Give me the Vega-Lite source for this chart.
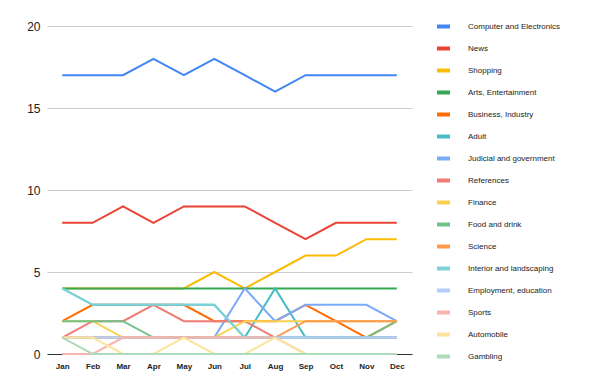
{
  "$schema": "https://vega.github.io/schema/vega-lite/v6.json",
  "width": 365,
  "height": 328,
  "autosize": "none",
  "padding": {"left": 47, "top": 26, "right": 188, "bottom": 34},
  "background": "white",
  "config": {"view": {"stroke": null}, "font": "Liberation Sans"},
  "data": {"values": [
    {"s":"Computer and Electronics","m":"Jan","v":17},{"s":"Computer and Electronics","m":"Feb","v":17},{"s":"Computer and Electronics","m":"Mar","v":17},{"s":"Computer and Electronics","m":"Apr","v":18},{"s":"Computer and Electronics","m":"May","v":17},{"s":"Computer and Electronics","m":"Jun","v":18},{"s":"Computer and Electronics","m":"Jul","v":17},{"s":"Computer and Electronics","m":"Aug","v":16},{"s":"Computer and Electronics","m":"Sep","v":17},{"s":"Computer and Electronics","m":"Oct","v":17},{"s":"Computer and Electronics","m":"Nov","v":17},{"s":"Computer and Electronics","m":"Dec","v":17},
    {"s":"News","m":"Jan","v":8},{"s":"News","m":"Feb","v":8},{"s":"News","m":"Mar","v":9},{"s":"News","m":"Apr","v":8},{"s":"News","m":"May","v":9},{"s":"News","m":"Jun","v":9},{"s":"News","m":"Jul","v":9},{"s":"News","m":"Aug","v":8},{"s":"News","m":"Sep","v":7},{"s":"News","m":"Oct","v":8},{"s":"News","m":"Nov","v":8},{"s":"News","m":"Dec","v":8},
    {"s":"Shopping","m":"Jan","v":4},{"s":"Shopping","m":"Feb","v":4},{"s":"Shopping","m":"Mar","v":4},{"s":"Shopping","m":"Apr","v":4},{"s":"Shopping","m":"May","v":4},{"s":"Shopping","m":"Jun","v":5},{"s":"Shopping","m":"Jul","v":4},{"s":"Shopping","m":"Aug","v":5},{"s":"Shopping","m":"Sep","v":6},{"s":"Shopping","m":"Oct","v":6},{"s":"Shopping","m":"Nov","v":7},{"s":"Shopping","m":"Dec","v":7},
    {"s":"Arts, Entertainment","m":"Jan","v":4},{"s":"Arts, Entertainment","m":"Feb","v":4},{"s":"Arts, Entertainment","m":"Mar","v":4},{"s":"Arts, Entertainment","m":"Apr","v":4},{"s":"Arts, Entertainment","m":"May","v":4},{"s":"Arts, Entertainment","m":"Jun","v":4},{"s":"Arts, Entertainment","m":"Jul","v":4},{"s":"Arts, Entertainment","m":"Aug","v":4},{"s":"Arts, Entertainment","m":"Sep","v":4},{"s":"Arts, Entertainment","m":"Oct","v":4},{"s":"Arts, Entertainment","m":"Nov","v":4},{"s":"Arts, Entertainment","m":"Dec","v":4},
    {"s":"Business, Industry","m":"Jan","v":2},{"s":"Business, Industry","m":"Feb","v":3},{"s":"Business, Industry","m":"Mar","v":3},{"s":"Business, Industry","m":"Apr","v":3},{"s":"Business, Industry","m":"May","v":3},{"s":"Business, Industry","m":"Jun","v":2},{"s":"Business, Industry","m":"Jul","v":2},{"s":"Business, Industry","m":"Aug","v":2},{"s":"Business, Industry","m":"Sep","v":3},{"s":"Business, Industry","m":"Oct","v":2},{"s":"Business, Industry","m":"Nov","v":1},{"s":"Business, Industry","m":"Dec","v":2},
    {"s":"Adult","m":"Jan","v":4},{"s":"Adult","m":"Feb","v":3},{"s":"Adult","m":"Mar","v":3},{"s":"Adult","m":"Apr","v":3},{"s":"Adult","m":"May","v":3},{"s":"Adult","m":"Jun","v":3},{"s":"Adult","m":"Jul","v":1},{"s":"Adult","m":"Aug","v":4},{"s":"Adult","m":"Sep","v":1},{"s":"Adult","m":"Oct","v":1},{"s":"Adult","m":"Nov","v":1},{"s":"Adult","m":"Dec","v":1},
    {"s":"Judicial and government","m":"Jan","v":1},{"s":"Judicial and government","m":"Feb","v":1},{"s":"Judicial and government","m":"Mar","v":1},{"s":"Judicial and government","m":"Apr","v":1},{"s":"Judicial and government","m":"May","v":1},{"s":"Judicial and government","m":"Jun","v":1},{"s":"Judicial and government","m":"Jul","v":4},{"s":"Judicial and government","m":"Aug","v":2},{"s":"Judicial and government","m":"Sep","v":3},{"s":"Judicial and government","m":"Oct","v":3},{"s":"Judicial and government","m":"Nov","v":3},{"s":"Judicial and government","m":"Dec","v":2},
    {"s":"References","m":"Jan","v":1},{"s":"References","m":"Feb","v":2},{"s":"References","m":"Mar","v":2},{"s":"References","m":"Apr","v":3},{"s":"References","m":"May","v":2},{"s":"References","m":"Jun","v":2},{"s":"References","m":"Jul","v":2},{"s":"References","m":"Aug","v":1},{"s":"References","m":"Sep","v":1},{"s":"References","m":"Oct","v":1},{"s":"References","m":"Nov","v":1},{"s":"References","m":"Dec","v":1},
    {"s":"Finance","m":"Jan","v":2},{"s":"Finance","m":"Feb","v":2},{"s":"Finance","m":"Mar","v":1},{"s":"Finance","m":"Apr","v":1},{"s":"Finance","m":"May","v":1},{"s":"Finance","m":"Jun","v":1},{"s":"Finance","m":"Jul","v":2},{"s":"Finance","m":"Aug","v":2},{"s":"Finance","m":"Sep","v":2},{"s":"Finance","m":"Oct","v":2},{"s":"Finance","m":"Nov","v":2},{"s":"Finance","m":"Dec","v":2},
    {"s":"Food and drink","m":"Jan","v":2},{"s":"Food and drink","m":"Feb","v":2},{"s":"Food and drink","m":"Mar","v":2},{"s":"Food and drink","m":"Apr","v":1},{"s":"Food and drink","m":"May","v":1},{"s":"Food and drink","m":"Jun","v":1},{"s":"Food and drink","m":"Jul","v":1},{"s":"Food and drink","m":"Aug","v":1},{"s":"Food and drink","m":"Sep","v":1},{"s":"Food and drink","m":"Oct","v":1},{"s":"Food and drink","m":"Nov","v":1},{"s":"Food and drink","m":"Dec","v":2},
    {"s":"Science","m":"Jan","v":1},{"s":"Science","m":"Feb","v":1},{"s":"Science","m":"Mar","v":1},{"s":"Science","m":"Apr","v":1},{"s":"Science","m":"May","v":1},{"s":"Science","m":"Jun","v":1},{"s":"Science","m":"Jul","v":1},{"s":"Science","m":"Aug","v":1},{"s":"Science","m":"Sep","v":2},{"s":"Science","m":"Oct","v":2},{"s":"Science","m":"Nov","v":2},{"s":"Science","m":"Dec","v":2},
    {"s":"Interior and landscaping","m":"Jan","v":4},{"s":"Interior and landscaping","m":"Feb","v":3},{"s":"Interior and landscaping","m":"Mar","v":3},{"s":"Interior and landscaping","m":"Apr","v":3},{"s":"Interior and landscaping","m":"May","v":3},{"s":"Interior and landscaping","m":"Jun","v":3},{"s":"Interior and landscaping","m":"Jul","v":1},{"s":"Interior and landscaping","m":"Aug","v":1},{"s":"Interior and landscaping","m":"Sep","v":1},{"s":"Interior and landscaping","m":"Oct","v":1},{"s":"Interior and landscaping","m":"Nov","v":1},{"s":"Interior and landscaping","m":"Dec","v":1},
    {"s":"Employment, education","m":"Jan","v":1},{"s":"Employment, education","m":"Feb","v":1},{"s":"Employment, education","m":"Mar","v":1},{"s":"Employment, education","m":"Apr","v":1},{"s":"Employment, education","m":"May","v":1},{"s":"Employment, education","m":"Jun","v":1},{"s":"Employment, education","m":"Jul","v":1},{"s":"Employment, education","m":"Aug","v":1},{"s":"Employment, education","m":"Sep","v":1},{"s":"Employment, education","m":"Oct","v":1},{"s":"Employment, education","m":"Nov","v":1},{"s":"Employment, education","m":"Dec","v":1},
    {"s":"Sports","m":"Jan","v":0},{"s":"Sports","m":"Feb","v":0},{"s":"Sports","m":"Mar","v":1},{"s":"Sports","m":"Apr","v":1},{"s":"Sports","m":"May","v":1},{"s":"Sports","m":"Jun","v":1},{"s":"Sports","m":"Jul","v":1},{"s":"Sports","m":"Aug","v":1},{"s":"Sports","m":"Sep","v":0},{"s":"Sports","m":"Oct","v":0},{"s":"Sports","m":"Nov","v":0},{"s":"Sports","m":"Dec","v":0},
    {"s":"Automobile","m":"Jan","v":1},{"s":"Automobile","m":"Feb","v":1},{"s":"Automobile","m":"Mar","v":0},{"s":"Automobile","m":"Apr","v":0},{"s":"Automobile","m":"May","v":1},{"s":"Automobile","m":"Jun","v":0},{"s":"Automobile","m":"Jul","v":0},{"s":"Automobile","m":"Aug","v":1},{"s":"Automobile","m":"Sep","v":0},{"s":"Automobile","m":"Oct","v":0},{"s":"Automobile","m":"Nov","v":0},{"s":"Automobile","m":"Dec","v":0},
    {"s":"Gambling","m":"Jan","v":1},{"s":"Gambling","m":"Feb","v":0},{"s":"Gambling","m":"Mar","v":0},{"s":"Gambling","m":"Apr","v":0},{"s":"Gambling","m":"May","v":0},{"s":"Gambling","m":"Jun","v":0},{"s":"Gambling","m":"Jul","v":0},{"s":"Gambling","m":"Aug","v":0},{"s":"Gambling","m":"Sep","v":0},{"s":"Gambling","m":"Oct","v":0},{"s":"Gambling","m":"Nov","v":0},{"s":"Gambling","m":"Dec","v":0}
  ]},
  "mark": {"type": "line", "strokeWidth": 2, "strokeJoin": "miter"},
  "encoding": {
    "x": {
      "field": "m", "type": "ordinal", "sort": null,
      "scale": {"type": "point", "padding": 0.5},
      "axis": {"title": null, "grid": false, "ticks": false, "domain": true, "domainColor": "#333333", "domainWidth": 1,
        "labelFontSize": 8, "labelFontWeight": "bold", "labelColor": "#222222", "labelPadding": 8, "labelAngle": 0}
    },
    "y": {
      "field": "v", "type": "quantitative",
      "scale": {"domain": [0, 20], "nice": false},
      "axis": {"title": null, "values": [0, 5, 10, 15, 20], "ticks": false, "domain": false,
        "gridColor": "#cccccc", "labelFontSize": 12, "labelColor": "#222222", "labelPadding": 7}
    },
    "color": {
      "field": "s", "type": "nominal",
      "scale": {
        "domain": ["Computer and Electronics","News","Shopping","Arts, Entertainment","Business, Industry","Adult","Judicial and government","References","Finance","Food and drink","Science","Interior and landscaping","Employment, education","Sports","Automobile","Gambling"],
        "range": ["#4285f4","#ea4335","#fbbc04","#34a853","#ff6d01","#46bdc6","#7baaf7","#f07b72","#fcd04f","#71c287","#ff994d","#7ed1d7","#b3cefb","#f7b4ae","#fde49b","#aedcba"]
      },
      "legend": {
        "title": null, "orient": "none", "legendX": 388, "legendY": -8, "padding": 0,
        "symbolType": "stroke", "symbolStrokeWidth": 4, "symbolSize": 169,
        "labelFontSize": 8, "labelColor": "#222222", "labelOffset": 16, "rowPadding": 5, "labelLimit": 200
      }
    }
  }
}
